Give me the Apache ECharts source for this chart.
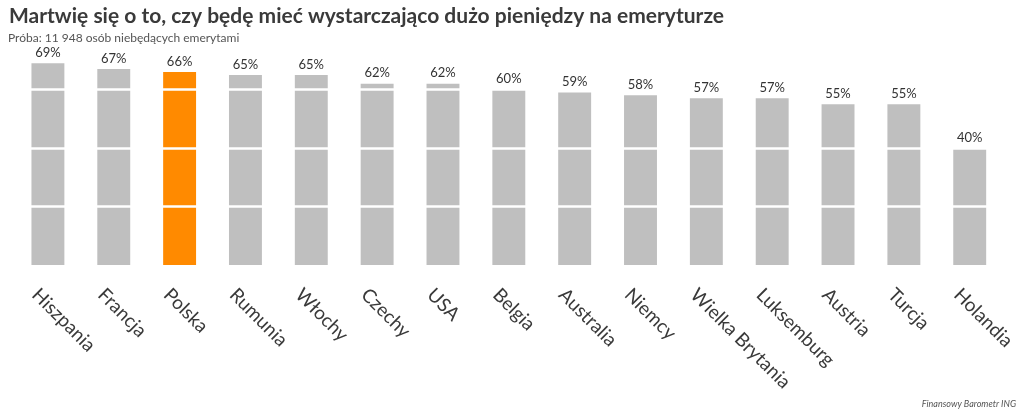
<!DOCTYPE html>
<html>
<head>
<meta charset="utf-8">
<script src="https://cdn.jsdelivr.net/npm/echarts@6/dist/echarts.min.js"></script>
<style>
  html, body { margin: 0; padding: 0; background: #fff; }
  #chart { width: 1024px; height: 416px; }
</style>
</head>
<body>
<div id="chart"></div>
<script>
const countries = ['Hiszpania', 'Francja', 'Polska', 'Rumunia', 'Włochy', 'Czechy', 'USA', 'Belgia',
  'Australia', 'Niemcy', 'Wielka Brytania', 'Luksemburg', 'Austria', 'Turcja', 'Holandia'];
const shares = [69, 67, 66, 65, 65, 62, 62, 60, 59, 58, 57, 57, 55, 55, 40];
const highlighted = 'Polska';
const gridValues = [20, 40, 60];

const chart = echarts.init(document.getElementById('chart'));

const option = {
  animation: false,
  textStyle: { fontFamily: 'Lato' },
  title: [
    {
      text: 'Martwię się o to, czy będę mieć wystarczająco dużo pieniędzy na emeryturze',
      left: 9, top: 6, padding: 0,
      textStyle: { fontSize: 21, fontWeight: 'bold', color: '#3a3a3a', fontFamily: 'Lato' }
    },
    {
      text: 'Próba: 11 948 osób niebędących emerytami',
      left: 8, top: 32, padding: 0,
      textStyle: { fontSize: 12, fontWeight: 'normal', color: '#555', fontFamily: 'Lato' }
    },
    {
      text: 'Finansowy Barometr ING',
      right: 8, top: 400, padding: 0,
      textStyle: { fontSize: 9, fontStyle: 'italic', fontWeight: 'normal', color: '#555', fontFamily: 'Lato' }
    }
  ],
  grid: { left: 15, right: 13, top: 31, bottom: 151 },
  xAxis: {
    type: 'category',
    data: countries,
    axisLine: { show: false },
    axisTick: { show: false },
    axisLabel: {
      rotate: -45,
      interval: 0,
      margin: 14,
      fontSize: 19,
      lineHeight: 20,
      verticalAlign: 'top',
      padding: [8, 0, 0, 0],
      color: '#3a3a3a',
      fontFamily: 'Lato'
    }
  },
  yAxis: {
    type: 'value',
    min: 0, max: 80, interval: 20,
    show: false,
    splitLine: { show: false }
  },
  series: [
    {
      type: 'bar',
      barWidth: '50%',
      z: 2,
      data: shares.map((v, i) => ({
        value: v,
        itemStyle: { color: countries[i] === highlighted ? '#FF8A00' : '#BFBFBF' }
      })),
      markLine: {
        silent: true,
        symbol: 'none',
        label: { show: false },
        lineStyle: { color: '#fff', width: 2.5, type: 'solid' },
        data: gridValues.map(v => ({ yAxis: v }))
      }
    },
    {
      // transparent copy that only carries the value labels above the white lines
      type: 'bar',
      barWidth: '50%',
      barGap: '-100%',
      z: 10,
      silent: true,
      data: shares,
      itemStyle: { color: 'rgba(0,0,0,0)' },
      label: {
        show: true,
        position: 'top',
        distance: 4,
        formatter: '{c}%',
        fontSize: 13,
        color: '#333',
        fontFamily: 'Lato'
      }
    }
  ]
};

chart.setOption(option);
</script>
</body>
</html>
